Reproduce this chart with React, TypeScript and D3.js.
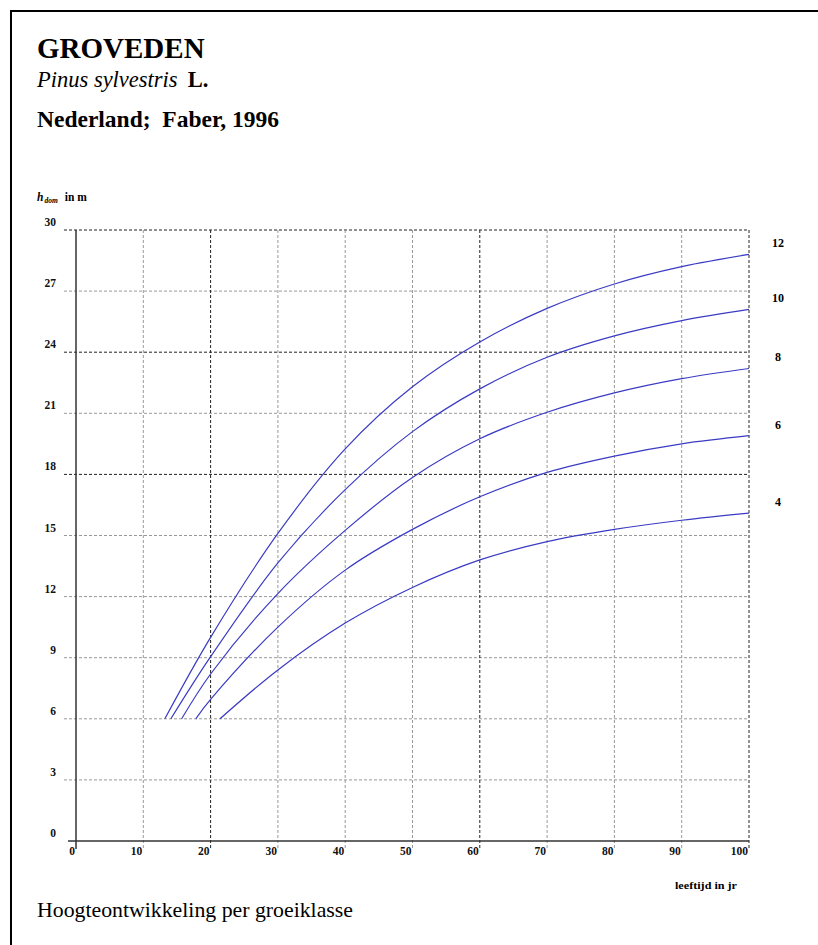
import * as d3 from "d3";

const width = 818;
const height = 945;
const plot = { left: 76, right: 749, top: 230, bottom: 841 };

// groeiklassen (hdom at 50 yr) and curve points [age, hdom]
const classes = ["12", "10", "8", "6", "4"];
const ages12 = [13.2, 20, 30, 40, 50, 60, 70, 80, 90, 100];
const h12 = [6, 10.0, 15.1, 19.25, 22.3, 24.5, 26.15, 27.35, 28.2, 28.8];
const ages10 = [14.1, 20, 30, 40, 50, 60, 70, 80, 90, 100];
const h10 = [6, 9.05, 13.65, 17.25, 20.1, 22.2, 23.75, 24.8, 25.55, 26.1];
const ages8 = [15.7, 20, 30, 40, 50, 60, 70, 80, 90, 100];
const h8 = [6, 8.2, 12.15, 15.25, 17.85, 19.75, 21.05, 22.0, 22.7, 23.2];
const ages6 = [17.8, 20, 30, 40, 50, 60, 70, 80, 90, 100];
const h6 = [6, 6.95, 10.5, 13.3, 15.3, 16.9, 18.1, 18.9, 19.5, 19.9];
const ages4 = [21.4, 30, 40, 50, 60, 70, 80, 90, 100];
const h4 = [6, 8.4, 10.7, 12.45, 13.8, 14.7, 15.3, 15.75, 16.1];

const xTicks = [0, 10, 20, 30, 40, 50, 60, 70, 80, 90, 100];
const yTicks = [0, 3, 6, 9, 12, 15, 18, 21, 24, 27, 30];
const darkX = [20, 60, 100];
const darkY = [18, 24, 30];

const series = [
  { name: classes[0], ages: ages12, h: h12 },
  { name: classes[1], ages: ages10, h: h10 },
  { name: classes[2], ages: ages8, h: h8 },
  { name: classes[3], ages: ages6, h: h6 },
  { name: classes[4], ages: ages4, h: h4 },
];

const serif = '"Liberation Serif", "DejaVu Serif", serif';

export default function App() {
  const x = d3.scaleLinear().domain([0, 100]).range([plot.left, plot.right]);
  const y = d3.scaleLinear().domain([0, 30]).range([plot.bottom, plot.top]);

  const line = d3
    .line<[number, number]>()
    .x((d) => x(d[0]))
    .y((d) => y(d[1]))
    .curve(d3.curveCatmullRom.alpha(0.5));

  return (
    <svg
      width={width}
      height={height}
      style={{ position: "absolute", left: 0, top: 0, background: "#fff" }}
      fontFamily={serif}
    >
      {/* frame */}
      <line x1={10} x2={width} y1={11} y2={11} stroke="#000" strokeWidth={2} />
      <line x1={11} x2={11} y1={10} y2={height} stroke="#000" strokeWidth={2} />

      <text x={37} y={58} fontSize={29} fontWeight={700}>
        GROVEDEN
      </text>
      <text x={37} y={87} fontSize={22.5}>
        <tspan fontStyle="italic">Pinus sylvestris</tspan>
        <tspan dx={10} fontWeight={700}>L.</tspan>
      </text>
      <text x={37} y={127} fontSize={23.5} fontWeight={700}>
        Nederland;{"\u00a0 "}Faber, 1996
      </text>

      {/* y axis title */}
      <text x={37} y={201} fontSize={11.5} fontWeight={700}>
        <tspan fontStyle="italic">h</tspan>
        <tspan fontSize={7.5} fontStyle="italic" dy={2} dx={1}>dom</tspan>
        <tspan dy={-2} dx={7}>in m</tspan>
      </text>

      {/* grid */}
      {yTicks.map((t) => (
        <g key={`y${t}`}>
          {t > 0 && (
            <line
              x1={plot.left - 12}
              x2={plot.right}
              y1={y(t)}
              y2={y(t)}
              stroke={darkY.includes(t) ? "#222" : "#999"}
              strokeWidth={1}
              strokeDasharray="3 2"
            />
          )}
          <text
            x={plot.left - 20}
            y={y(t) - 4}
            fontSize={11.5}
            fontWeight={700}
            textAnchor="end"
            fill="#111"
          >
            {t}
          </text>
        </g>
      ))}
      {xTicks.map((t) => (
        <g key={`x${t}`}>
          {t > 0 && (
            <line
              x1={x(t)}
              x2={x(t)}
              y1={plot.top}
              y2={plot.bottom + 7}
              stroke={darkX.includes(t) ? "#222" : "#999"}
              strokeWidth={1}
              strokeDasharray="3 2"
            />
          )}
          <text
            x={x(t) - 1}
            y={plot.bottom + 14}
            fontSize={11.5}
            fontWeight={700}
            textAnchor="end"
            fill="#111"
          >
            {t}
          </text>
        </g>
      ))}

      {/* axes */}
      <line
        x1={plot.left}
        x2={plot.left}
        y1={plot.top}
        y2={plot.bottom + 8}
        stroke="#333"
        strokeWidth={1.5}
      />
      <line
        x1={plot.left - 8}
        x2={plot.right}
        y1={plot.bottom}
        y2={plot.bottom}
        stroke="#333"
        strokeWidth={1.5}
      />

      {/* curves */}
      {series.map((s) => {
        const pts = s.ages.map((a, i) => [a, s.h[i]] as [number, number]);
        const last = pts[pts.length - 1];
        return (
          <g key={s.name}>
            <path
              d={line(pts) ?? ""}
              fill="none"
              stroke="#3b3bc4"
              strokeWidth={1.2}
            />
            <text
              x={778}
              y={y(last[1]) - 7}
              fontSize={12}
              fontWeight={700}
              textAnchor="middle"
            >
              {s.name}
            </text>
          </g>
        );
      })}

      <text
        x={675}
        y={889}
        fontSize={10.5}
        fontWeight={700}
        textLength={62}
        lengthAdjust="spacingAndGlyphs"
      >
        leeftijd in jr
      </text>

      <text
        x={37}
        y={917}
        fontSize={21}
        textLength={316}
        lengthAdjust="spacingAndGlyphs"
      >
        Hoogteontwikkeling per groeiklasse
      </text>
    </svg>
  );
}
